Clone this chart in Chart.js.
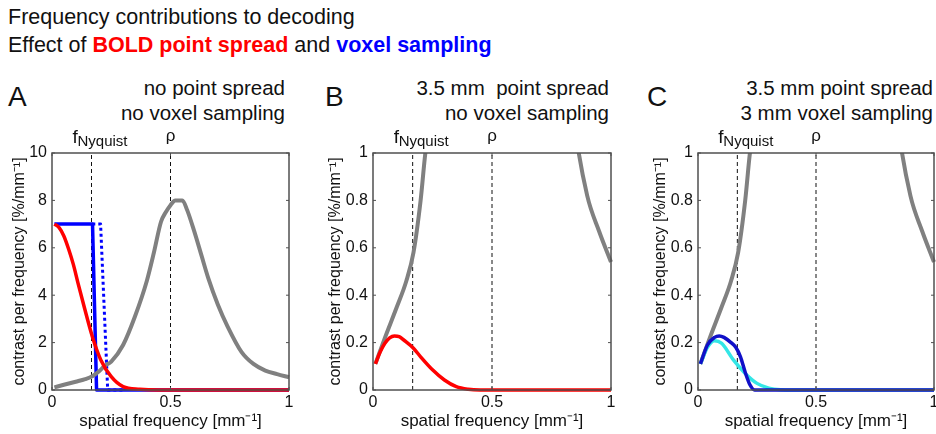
<!DOCTYPE html>
<html>
<head>
<meta charset="utf-8">
<script src="https://cdn.jsdelivr.net/npm/chart.js@4.4.0/dist/chart.umd.min.js"></script>
<style>
  html, body { margin: 0; padding: 0; background: #fff; }
  body { width: 936px; height: 434px; position: relative; overflow: hidden;
         font-family: "Liberation Sans", Arial, sans-serif; color: #111; }
  .txt { position: absolute; white-space: pre; line-height: 1; }
  .sub { font-size: 20.5px; text-align: right; }
  .letter { font-size: 28px; }
  canvas { position: absolute; top: 0; }
</style>
</head>
<body>
<div class="txt" style="left:8px; top:7px; font-size:21.5px">Frequency contributions to decoding</div>
<div class="txt" style="left:8px; top:35px; font-size:21.5px">Effect of <b style="color:#ff0000">BOLD point spread</b> and <b style="color:#0000ff">voxel sampling</b></div>

<div class="txt letter" style="left:8px; top:83px">A</div>
<div class="txt sub" style="right:651px; top:78px">no point spread</div>
<div class="txt sub" style="right:651px; top:103px">no voxel sampling</div>

<div class="txt letter" style="left:325px; top:83px">B</div>
<div class="txt sub" style="right:327px; top:78px">3.5 mm  point spread</div>
<div class="txt sub" style="right:327px; top:103px">no voxel sampling</div>

<div class="txt letter" style="left:647px; top:83px">C</div>
<div class="txt sub" style="right:3px; top:78px">3.5 mm point spread</div>
<div class="txt sub" style="right:3px; top:103px">3 mm voxel sampling</div>

<canvas id="panelA" width="312" height="434" style="left:0px"></canvas>
<canvas id="panelB" width="322" height="434" style="left:312px"></canvas>
<canvas id="panelC" width="302" height="434" style="left:634px"></canvas>

<script>
  "use strict";

  // marker frequencies [mm^-1]
  const NYQUIST = 1 / 6;
  const RHO = 0.5;

  // pattern spectrum (grey), same in all panels
  const freqGray = [0.01, 0.05, 0.1, 0.14, 0.17, 0.2, 0.22, 0.25, 0.3, 0.35, 0.4, 0.43, 0.46, 0.48, 0.5, 0.52, 0.55, 0.57, 0.6, 0.63, 0.66, 0.7, 0.74, 0.8, 0.85, 0.9, 0.95, 1.0];
  const contrastGray = [0.11, 0.22, 0.35, 0.46, 0.58, 0.8, 1.0, 1.2, 1.9, 3.1, 4.6, 5.8, 7.1, 7.5, 7.8, 8.0, 8.0, 7.6, 6.7, 5.7, 4.7, 3.6, 2.7, 1.6, 1.1, 0.82, 0.67, 0.54];

  // panel A
  const freqRedA = [0.01, 0.03, 0.05, 0.07, 0.09, 0.11, 0.136, 0.17, 0.206, 0.25, 0.3, 0.37, 0.45, 1.0];
  const contrastRedA = [7.0, 6.85, 6.5, 5.95, 5.3, 4.5, 3.5, 2.26, 1.27, 0.56, 0.14, 0.03, 0, 0];
  const freqBlueA = [0.01, 0.171, 0.188, 1.0];
  const contrastBlueA = [7, 7, 0, 0];
  const freqBlueDotA = [0.17, 0.205, 0.235, 0.3];
  const contrastBlueDotA = [7, 7, 0, 0];

  // panel B
  const freqRedB = [0.01, 0.03, 0.05, 0.07, 0.09, 0.11, 0.13, 0.17, 0.2, 0.25, 0.3, 0.35, 0.4, 0.45, 1.0];
  const contrastRedB = [0.11, 0.16, 0.197, 0.22, 0.228, 0.225, 0.21, 0.176, 0.14, 0.085, 0.042, 0.014, 0.003, 0, 0];

  // panel C
  const freqCyanC = [0.01, 0.04, 0.07, 0.1, 0.15, 0.2, 0.25, 0.3, 0.35, 0.4, 1.0];
  const contrastCyanC = [0.11, 0.18, 0.208, 0.197, 0.127, 0.07, 0.028, 0.008, 0.001, 0, 0];
  const freqBlueC = [0.01, 0.04, 0.07, 0.09, 0.11, 0.14, 0.16, 0.18, 0.2, 0.22, 0.24, 1.0];
  const contrastBlueC = [0.11, 0.19, 0.222, 0.228, 0.222, 0.2, 0.18, 0.14, 0.075, 0.022, 0, 0];

  Chart.defaults.font.family = '"Liberation Sans", Arial, sans-serif';
  Chart.defaults.color = "#111";

  function pts(xs, ys) {
    return xs.map(function (x, i) { return { x: x, y: ys[i] }; });
  }

  function curve(xs, ys, color, width, order, smooth) {
    return {
      data: pts(xs, ys),
      borderColor: color,
      borderWidth: width,
      pointRadius: 0,
      cubicInterpolationMode: smooth ? "monotone" : "default",
      borderJoinStyle: "round",
      clip: { left: 2, top: 0, right: 2, bottom: 5 },
      order: order,
    };
  }

  function marker(xv, ymax) {
    return {
      data: [{ x: xv, y: 0 }, { x: xv, y: ymax }],
      borderColor: "#111",
      borderWidth: 1,
      borderDash: [4, 3],
      pointRadius: 0,
      order: 10,
    };
  }

  // 0.0 -> "0", 1.0 -> "1"
  function tickText(v) {
    return String(Math.round(v * 100) / 100);
  }

  // box, inward ticks and the marker labels above the plot
  const framePlugin = {
    id: "frame",
    afterDatasetsDraw: function (chart) {
      const ctx = chart.ctx;
      const a = chart.chartArea;
      const x = chart.scales.x;
      const y = chart.scales.y;
      ctx.save();
      ctx.strokeStyle = "#505050";
      ctx.lineWidth = 1.5;
      ctx.strokeRect(a.left, a.top, a.right - a.left, a.bottom - a.top);
      ctx.lineWidth = 1;
      ctx.beginPath();
      y.ticks.forEach(function (t) {
        const py = y.getPixelForValue(t.value);
        ctx.moveTo(a.left, py); ctx.lineTo(a.left + 3, py);
        ctx.moveTo(a.right, py); ctx.lineTo(a.right - 3, py);
      });
      x.ticks.forEach(function (t) {
        const px = x.getPixelForValue(t.value);
        ctx.moveTo(px, a.bottom); ctx.lineTo(px, a.bottom - 3);
        ctx.moveTo(px, a.top); ctx.lineTo(px, a.top + 3);
      });
      ctx.stroke();

      ctx.fillStyle = "#111";
      ctx.textBaseline = "alphabetic";
      const nx = x.getPixelForValue(NYQUIST);
      ctx.textAlign = "left";
      ctx.font = '19px "Liberation Sans", Arial, sans-serif';
      ctx.fillText("f", nx - 19, a.top - 10);
      ctx.font = '15px "Liberation Sans", Arial, sans-serif';
      ctx.fillText("Nyquist", nx - 14, a.top - 7);
      const rx = x.getPixelForValue(RHO);
      ctx.textAlign = "center";
      ctx.font = '17px "Liberation Sans", Arial, sans-serif';
      ctx.fillText("ρ", rx, a.top - 12);
      ctx.restore();
    },
  };

  function makePanel(id, p) {
    return new Chart(document.getElementById(id), {
      type: "line",
      data: { datasets: p.datasets.concat([marker(NYQUIST, p.ymax), marker(RHO, p.ymax)]) },
      options: {
        responsive: false,
        animation: false,
        devicePixelRatio: 1,
        events: [],
        layout: { padding: { top: 153, right: p.padRight, bottom: 0, left: 0 } },
        plugins: { legend: { display: false }, tooltip: { enabled: false } },
        scales: {
          x: {
            type: "linear",
            min: 0,
            max: 1,
            grid: { display: false, drawTicks: false },
            border: { display: false },
            ticks: { stepSize: 0.5, padding: 3, font: { size: 16 }, color: "#111", callback: tickText },
            title: { display: true, text: "spatial frequency [mm⁻¹]", font: { size: 17 }, color: "#111", padding: { top: 0, bottom: 2 } },
            afterFit: function (s) { s.height = 44; s.paddingLeft = 0; s.paddingRight = 0; },
          },
          y: {
            type: "linear",
            min: 0,
            max: p.ymax,
            grid: { display: false, drawTicks: false },
            border: { display: false },
            ticks: { stepSize: p.ystep, padding: 5, font: { size: 16 }, color: "#111", callback: tickText },
            title: { display: true, text: "contrast per frequency [%/mm⁻¹]", font: { size: 16 }, color: "#111", padding: { top: p.titlePad, bottom: 0 } },
            afterFit: function (s) { s.width = p.yWidth; s.paddingTop = 0; s.paddingBottom = 0; },
          },
        },
      },
      plugins: [framePlugin],
    });
  }

  makePanel("panelA", {
    ymax: 10, ystep: 2, yWidth: 52, padRight: 23, titlePad: 10,
    datasets: [
      curve(freqRedA, contrastRedA, "#ff0000", 3.5, 1, true),
      curve(freqGray, contrastGray, "#808080", 4, 2, true),
      curve(freqBlueA, contrastBlueA, "#0000ff", 3.5, 3, false),
      Object.assign(curve(freqBlueDotA, contrastBlueDotA, "#0000ff", 3, 3, false), { borderDash: [3, 3] }),
    ],
  });

  makePanel("panelB", {
    ymax: 1, ystep: 0.2, yWidth: 61, padRight: 23, titlePad: 14,
    datasets: [
      curve(freqRedB, contrastRedB, "#ff0000", 3.5, 1, true),
      curve(freqGray, contrastGray, "#808080", 4, 2, true),
    ],
  });

  makePanel("panelC", {
    ymax: 1, ystep: 0.2, yWidth: 64, padRight: 2, titlePad: 17,
    datasets: [
      curve(freqBlueC, contrastBlueC, "#1010c8", 3.5, 1, true),
      curve(freqCyanC, contrastCyanC, "#33e6e6", 3.5, 2, true),
      curve(freqGray, contrastGray, "#808080", 4, 3, true),
    ],
  });
</script>
</body>
</html>
